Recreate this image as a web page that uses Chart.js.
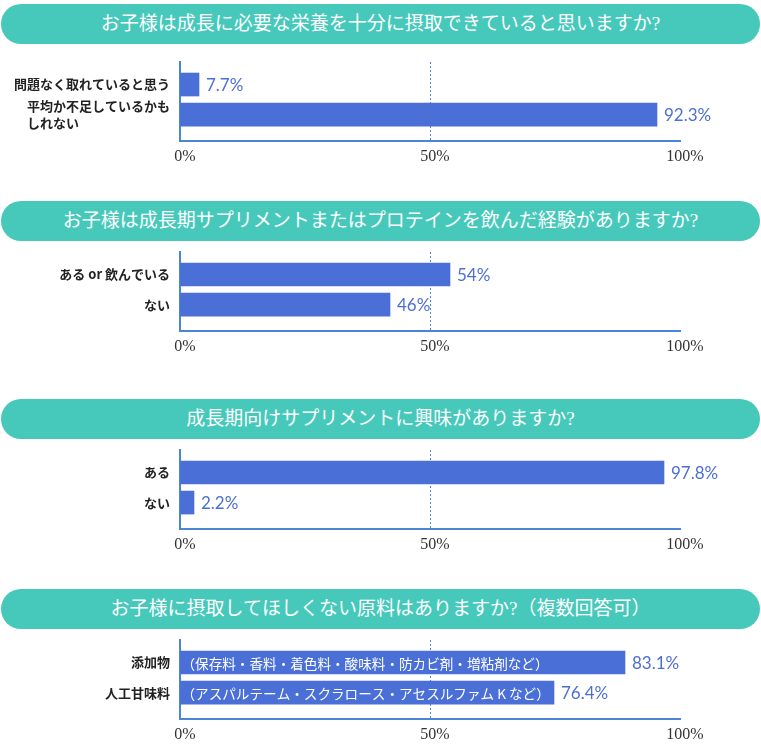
<!DOCTYPE html>
<html lang="ja">
<head>
<meta charset="utf-8">
<title>アンケート結果</title>
<script src="https://cdn.jsdelivr.net/npm/chart.js@4.4.1/dist/chart.umd.min.js"></script>
<style>
  html, body { margin: 0; padding: 0; background: #fff; }
  .page { position: relative; width: 761px; height: 744px; overflow: hidden; }
  .heading {
    position: absolute; left: 1px; width: 759px; height: 40px;
    border-radius: 20px; background: #46c9bb; color: #fff;
    font: 19px/40px "Liberation Serif", "Noto Sans CJK JP", serif;
    text-align: center; white-space: nowrap;
  }
  .page canvas { position: absolute; left: 0; }
</style>
</head>
<body>
<div class="page" id="page"></div>
<script>
// question headings
const titles = [
    'お子様は成長に必要な栄養を十分に摂取できていると思いますか?',
    'お子様は成長期サプリメントまたはプロテインを飲んだ経験がありますか?',
    '成長期向けサプリメントに興味がありますか?',
    'お子様に摂取してほしくない原料はありますか?（複数回答可）'
];

// Q1
const q1Categories = ['問題なく取れていると思う', ['平均か不足しているかも', 'しれない　　　　　　　']];
const q1Bars = [3.8, 95.4];
const q1Values = ['7.7%', '92.3%'];

// Q2
const q2Categories = ['ある or 飲んでいる', 'ない'];
const q2Bars = [54, 42];
const q2Values = ['54%', '46%'];

// Q3
const q3Categories = ['ある', 'ない'];
const q3Bars = [96.8, 2.8];
const q3Values = ['97.8%', '2.2%'];

// Q4
const q4Categories = ['添加物', '人工甘味料'];
const q4Bars = [89, 74.8];
const q4Values = ['83.1%', '76.4%'];
const q4Notes = [
    '（保存料・香料・着色料・酸味料・防カビ剤・増粘剤など）',
    '（アスパルテーム・スクラロース・アセスルファム K など）'
];

// shared x axis
const xTicks = [0, 50, 100];

const BAR_BLUE = '#4a70d8';
const AXIS_BLUE = '#4a86d6';
const VALUE_BLUE = '#4d6fd4';

// value labels after each bar, plus optional white note inside the bar
const barTextPlugin = {
    id: 'barText',
    afterDatasetsDraw(chart, args, opts) {
        const ctx = chart.ctx;
        const meta = chart.getDatasetMeta(0);
        ctx.save();
        ctx.textAlign = 'left';
        ctx.textBaseline = 'middle';
        meta.data.forEach((bar, i) => {
            if (opts.notes && opts.notes[i]) {
                ctx.font = '13.6px "Noto Sans CJK JP"';
                ctx.fillStyle = '#fff';
                ctx.fillText(opts.notes[i], bar.base + 1, bar.y + 1);
            }
            ctx.font = '17px Lato';
            ctx.fillStyle = VALUE_BLUE;
            ctx.fillText(opts.values[i], bar.x + 7, bar.y + 1);
        });
        ctx.restore();
    }
};

function makePanel(title, headTop, axisTop, categories, bars, values, notes) {
    const page = document.getElementById('page');

    const head = document.createElement('div');
    head.className = 'heading';
    head.style.top = headTop + 'px';
    head.textContent = title;
    page.appendChild(head);

    const padTop = 10;
    const canvas = document.createElement('canvas');
    canvas.width = 761;
    canvas.height = padTop + 79 + 30;
    canvas.style.top = (axisTop - padTop) + 'px';
    canvas.style.width = '761px';
    canvas.style.height = canvas.height + 'px';
    page.appendChild(canvas);

    new Chart(canvas.getContext('2d'), {
        type: 'bar',
        data: {
            datasets: [{
                data: bars.map((v, i) => ({ x: v, y: i })),
                backgroundColor: BAR_BLUE,
                borderWidth: 0,
                barThickness: 23
            }]
        },
        options: {
            indexAxis: 'y',
            responsive: false,
            animation: false,
            events: [],
            layout: { padding: { top: padTop, right: 81, bottom: 0, left: 0 } },
            plugins: {
                legend: { display: false },
                tooltip: { enabled: false },
                barText: { values: values, notes: notes }
            },
            scales: {
                x: {
                    type: 'linear',
                    min: 0,
                    max: 100,
                    afterBuildTicks: s => { s.ticks = xTicks.map(v => ({ value: v })); },
                    afterFit: s => { s.height = 30; },
                    grid: {
                        drawTicks: false,
                        lineWidth: 1,
                        color: c => (c.tick && c.tick.value === 50) ? AXIS_BLUE : 'rgba(0,0,0,0)'
                    },
                    border: { display: true, color: AXIS_BLUE, width: 2, dash: [2, 2] },
                    ticks: {
                        padding: 6,
                        labelOffset: 5,
                        color: '#333',
                        font: { family: '"Liberation Serif", serif', size: 16 },
                        callback: v => v + '%'
                    }
                },
                y: {
                    type: 'linear',
                    offset: false,
                    reverse: true,
                    min: -0.75,
                    max: 1.88,
                    afterBuildTicks: s => { s.ticks = categories.map((_, i) => ({ value: i })); },
                    afterFit: s => {
                        s.width = 180;
                        // category ticks sit inside the axis, so no edge padding is needed
                        s.paddingTop = 0;
                        s.paddingBottom = 0;
                    },
                    grid: { offset: false, drawTicks: false, color: 'rgba(0,0,0,0)' },
                    border: { display: true, color: AXIS_BLUE, width: 2 },
                    ticks: {
                        autoSkip: false,
                        padding: 10,
                        color: '#222',
                        font: { family: '"Noto Sans CJK JP", sans-serif', size: 13, weight: 'bold', lineHeight: 1.3 },
                        callback: v => categories[v]
                    }
                }
            }
        },
        plugins: [barTextPlugin]
    });
}

makePanel(titles[0], 4, 62, q1Categories, q1Bars, q1Values, null);
makePanel(titles[1], 201, 252, q2Categories, q2Bars, q2Values, null);
makePanel(titles[2], 399, 450, q3Categories, q3Bars, q3Values, null);
makePanel(titles[3], 589, 640, q4Categories, q4Bars, q4Values, q4Notes);
</script>
</body>
</html>
